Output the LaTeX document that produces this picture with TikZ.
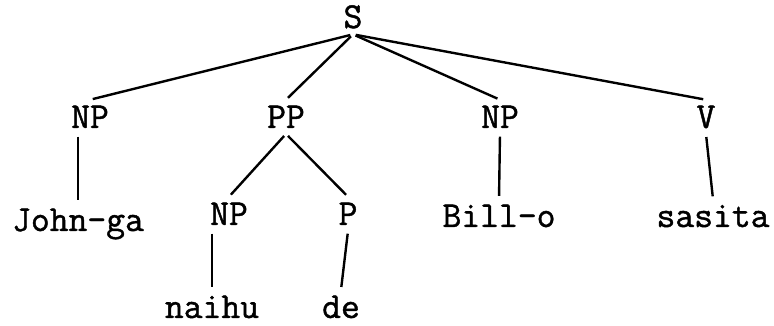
\documentclass[tikz,border=0pt]{standalone}
\usepackage{fontspec}
\setmonofont{Latin Modern Mono}[FakeBold=1.2]
\tikzset{every picture/.style={/utils/exec={\ttfamily}}}
\usetikzlibrary{calc}

\begin{document}
\begin{tikzpicture}[x=0.025cm, y=-0.025cm,
  cat/.style={anchor=base, inner sep=4pt, font=\fontsize{26}{30}\selectfont},
  branch/.style={line width=1.7pt, shorten <=2pt, shorten >=2pt}]
  \useasboundingbox (0,0) rectangle (774,326);

  \node [cat] (s) at (353,28) {S};

  \node [cat] (np1) at (90,128) {NP};
  \node [cat] (pp) at (286,128) {PP};
  \node [cat] (np3) at (500,128) {NP};
  \node [cat] (v) at (706,128) {V};

  \node [cat] (john) at (78,231) {John-ga};
  \node [cat] (np2) at (229,225) {NP};
  \node [cat] (p) at (348,225) {P};
  \node [cat] (bill) at (499,227) {Bill-o};
  \node [cat] (sasita) at (713,227) {sasita};

  \node [cat] (naihu) at (212,318) {naihu};
  \node [cat] (de) at (341,318) {de};

  \draw [branch] (s.south) -- (np1.north);
  \draw [branch] (s.south) -- (pp.north);
  \draw [branch] (s.south) -- (np3.north);
  \draw [branch] (s.south) -- (v.north);

  \draw [branch] (john.north |- np1.south) -- (john.north);
  \draw [branch] (pp.south) -- (np2.north);
  \draw [branch] (pp.south) -- (p.north);
  \draw [branch] (np3.south) -- (bill.north);
  \draw [branch] (v.south) -- (sasita.north);

  \draw [branch] (naihu.north |- np2.south) -- (naihu.north);
  \draw [branch] (p.south) -- (de.north);
\end{tikzpicture}
\end{document}
